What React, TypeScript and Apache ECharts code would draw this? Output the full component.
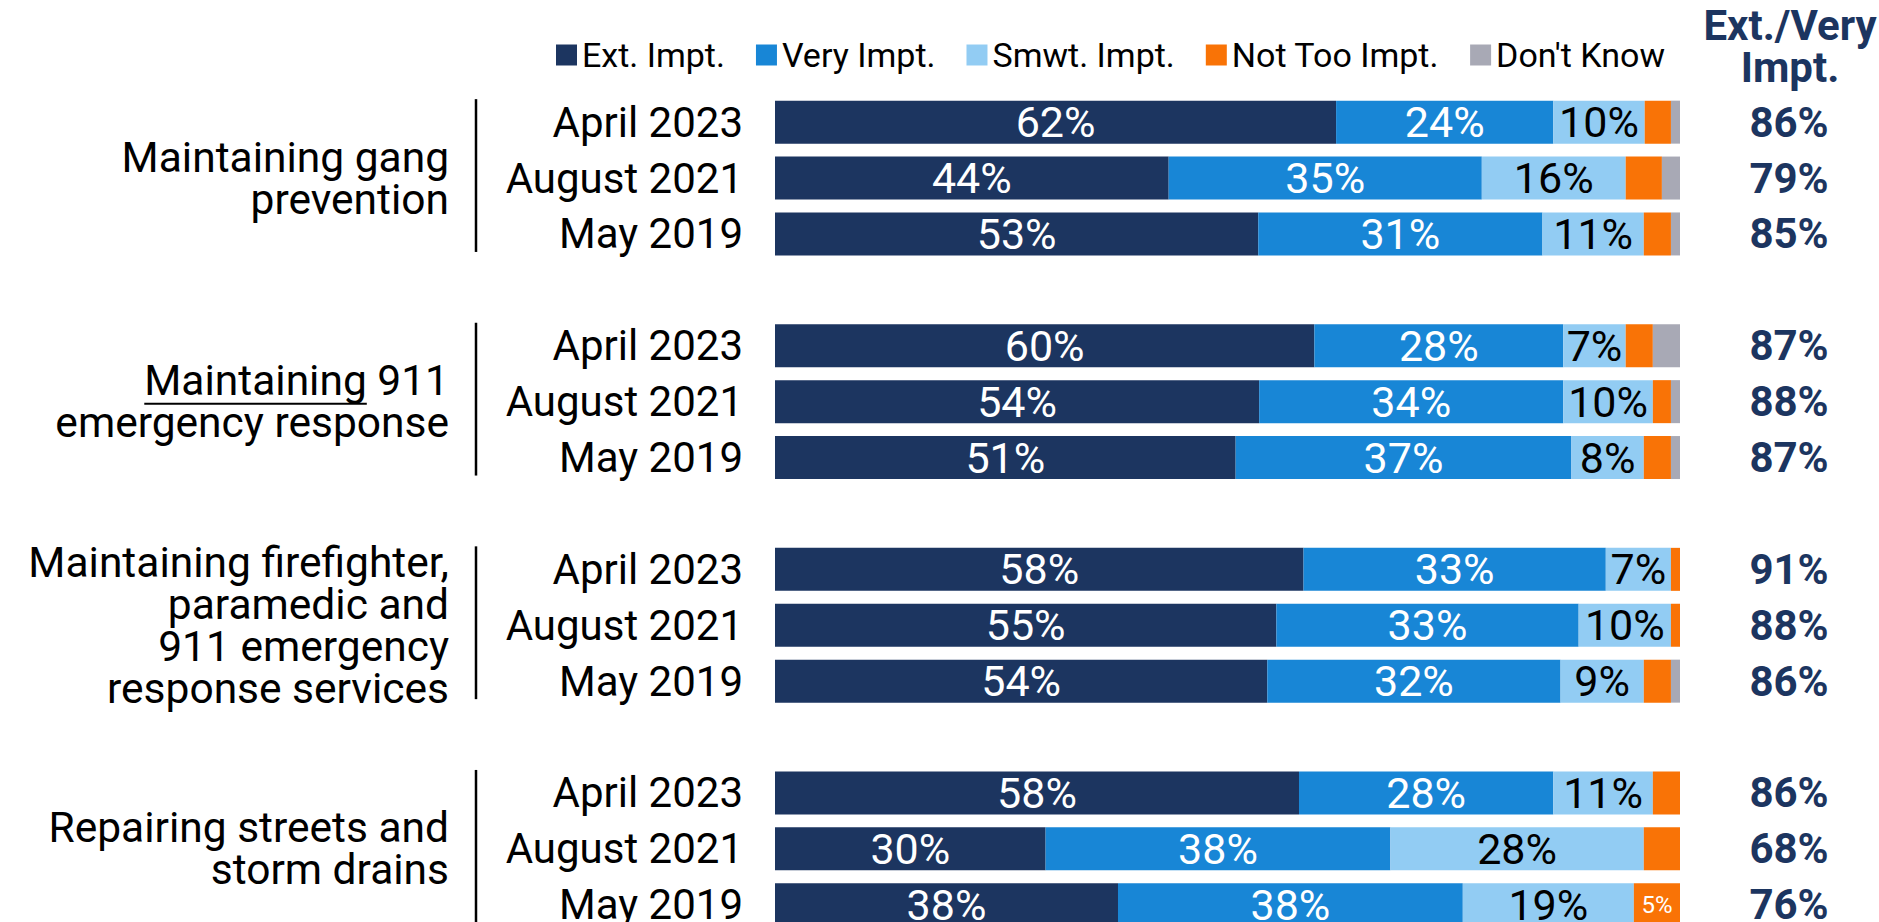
import React, { useEffect, useRef } from "react";
import * as echarts from "echarts";

const FONT = "Roboto";

const seriesNames = ["Ext. Impt.", "Very Impt.", "Smwt. Impt.", "Not Too Impt.", "Don't Know"];
const seriesColors = ["#1C3560", "#1886D6", "#92CCF3", "#F97306", "#A8A9B5"];

const dates = ["April 2023", "August 2021", "May 2019"];
const groups = [
  "Maintaining gang\nprevention",
  "Maintaining 911\nemergency response",
  "Maintaining firefighter,\nparamedic and\n911 emergency\nresponse services",
  "Repairing streets and\nstorm drains",
];

// one value per bar, in order: group 1 (Apr 2023, Aug 2021, May 2019), group 2, ...
const extImpt = [62, 43.5, 53.4, 59.6, 53.5, 50.9, 58.4, 55.4, 54.4, 57.9, 29.9, 37.9];
const veryImpt = [24, 34.6, 31.4, 27.5, 33.6, 37.1, 33.4, 33.4, 32.4, 28.1, 38.1, 38.1];
const smwtImpt = [10.1, 15.9, 11.2, 6.9, 9.9, 8.0, 7.2, 10.2, 9.2, 11.0, 28.0, 18.9];
const notTooImpt = [2.9, 4.0, 3.0, 3.0, 2.0, 3.0, 1.0, 1.0, 3.0, 3.0, 4.0, 5.1];
const dontKnow = [1.0, 2.0, 1.0, 3.0, 1.0, 1.0, 0, 0, 1.0, 0, 0, 0];
const extVeryTotal = [86, 79, 85, 87, 88, 87, 91, 88, 86, 86, 68, 76];

const headerText = "Ext./Very\nImpt.";

// build 15 rows: 3 bars per group, one empty row between groups
function expand<T>(values: T[], gap: any): any[] {
  const out: any[] = [];
  for (let g = 0; g < groups.length; g++) {
    for (let d = 0; d < dates.length; d++) out.push(values[g * dates.length + d]);
    if (g < groups.length - 1) out.push(gap);
  }
  return out;
}

const NAVY = "#1C3560";
const GRID_LEFT = 775;
const GRID_RIGHT = 199;
const GRID_TOP = 94.2;
const GRID_HEIGHT = 838.5;
const GROUP_MARGIN = 326;
const GROUP_FONT = 42.5;
const GROUP_LH = 42;

export default function App() {
  const ref = useRef<HTMLDivElement>(null);

  useEffect(() => {
    if (!ref.current) return;
    const chart = echarts.init(ref.current, undefined, { renderer: "svg" });

    const dateRows = expand(
      groups.flatMap(() => dates),
      ""
    );
    const groupRows: string[] = [];
    groups.forEach((g, i) => {
      groupRows.push("", g, "");
      if (i < groups.length - 1) groupRows.push("");
    });
    const totalRows = expand(extVeryTotal.map((v) => v + "%"), "");

    const allValues = [extImpt, veryImpt, smwtImpt, notTooImpt, dontKnow];
    const labelColors = ["#FFFFFF", "#FFFFFF", "#000000", "#FFFFFF", "#FFFFFF"];

    const barSeries = allValues.map((vals, si) => {
      const data = expand(
        vals.map((v) => {
          if (si === 3 && Math.round(v) >= 5) {
            return {
              value: v,
              label: { show: true, fontSize: 24, color: "#FFFFFF", fontFamily: FONT },
            };
          }
          return v;
        }),
        "-"
      );
      return {
        name: seriesNames[si],
        type: "bar",
        stack: "total",
        xAxisIndex: 0,
        yAxisIndex: 0,
        barWidth: 43,
        itemStyle: { color: seriesColors[si] },
        label: {
          show: si < 3,
          position: "inside",
          color: labelColors[si],
          fontSize: 43,
          fontFamily: FONT,
          formatter: (p: any) => Math.round(p.value) + "%",
        },
        data,
      };
    });

    const spans = groups.map((_, g) => [g * 4, g * 4 + 2]);

    const separatorSeries = {
      type: "custom",
      xAxisIndex: 0,
      yAxisIndex: 0,
      silent: true,
      clip: false,
      data: spans,
      renderItem: (_params: any, api: any) => {
        const s = api.value(0);
        const e = api.value(1);
        const p1 = api.coord([0, s]);
        const p2 = api.coord([0, e]);
        const x = p1[0] - 299;
        return {
          type: "line",
          shape: { x1: x, y1: p1[1] - 23, x2: x, y2: p2[1] + 18 },
          style: { stroke: "#000000", lineWidth: 2.5 },
        };
      },
    };

    chart.setOption({
      animation: false,
      backgroundColor: "#FFFFFF",
      textStyle: { fontFamily: FONT },
      title: {
        text: headerText,
        left: 1790,
        top: 4,
        textAlign: "center",
        padding: 0,
        textStyle: {
          fontFamily: FONT,
          fontSize: 42,
          fontWeight: "bold",
          lineHeight: 42,
          color: NAVY,
        },
      },
      legend: {
        data: seriesNames,
        left: 556,
        top: 38,
        padding: 0,
        icon: "rect",
        itemWidth: 21,
        itemHeight: 21,
        itemGap: 31,
        selectedMode: false,
        textStyle: { fontFamily: FONT, fontSize: 34, color: "#000000" },
      },
      grid: {
        left: GRID_LEFT,
        right: GRID_RIGHT,
        top: GRID_TOP,
        height: GRID_HEIGHT,
        outerBoundsMode: "none",
        containLabel: false,
      },
      xAxis: { type: "value", min: 0, max: 100, show: false },
      yAxis: [
        {
          type: "category",
          inverse: true,
          data: dateRows,
          axisLine: { show: false },
          axisTick: { show: false },
          axisLabel: {
            interval: 0,
            margin: 32,
            fontFamily: FONT,
            fontSize: 42,
            color: "#000000",
          },
        },
        {
          type: "category",
          inverse: true,
          position: "left",
          data: groupRows,
          axisLine: { show: false },
          axisTick: { show: false },
          axisLabel: {
            interval: 0,
            margin: GROUP_MARGIN,
            align: "right",
            fontFamily: FONT,
            fontSize: GROUP_FONT,
            lineHeight: GROUP_LH,
            color: "#000000",
          },
        },
        {
          type: "category",
          inverse: true,
          position: "right",
          data: totalRows,
          axisLine: { show: false },
          axisTick: { show: false },
          axisLabel: {
            interval: 0,
            margin: 109,
            align: "center",
            fontFamily: FONT,
            fontSize: 42,
            fontWeight: "bold",
            color: NAVY,
          },
        },
      ],
      series: [...barSeries, separatorSeries],
    });

    // underline the word "Maintaining" in the second group's label
    const canvas = document.createElement("canvas");
    const ctx = canvas.getContext("2d");
    if (ctx) {
      ctx.font = `${GROUP_FONT}px ${FONT}`;
      const firstLine = groups[1].split("\n")[0];
      const word = firstLine.split(" ")[0];
      const wLine = ctx.measureText(firstLine).width;
      const wWord = ctx.measureText(word).width;
      const nLines = groups[1].split("\n").length;
      const yc = chart.convertToPixel({ yAxisIndex: 0 }, 5) as unknown as number;
      const xRight = GRID_LEFT - GROUP_MARGIN;
      const x0 = xRight - wLine;
      const yLine = yc - ((nLines - 1) * GROUP_LH) / 2 + 23;
      chart.setOption({
        graphic: [
          {
            type: "line",
            shape: { x1: x0, y1: yLine, x2: x0 + wWord, y2: yLine },
            style: { stroke: "#000000", lineWidth: 2 },
          },
        ],
      });
    }

    return () => chart.dispose();
  }, []);

  return (
    <div
      ref={ref}
      style={{ position: "fixed", left: 0, top: 0, width: 1879, height: 922 }}
    />
  );
}
